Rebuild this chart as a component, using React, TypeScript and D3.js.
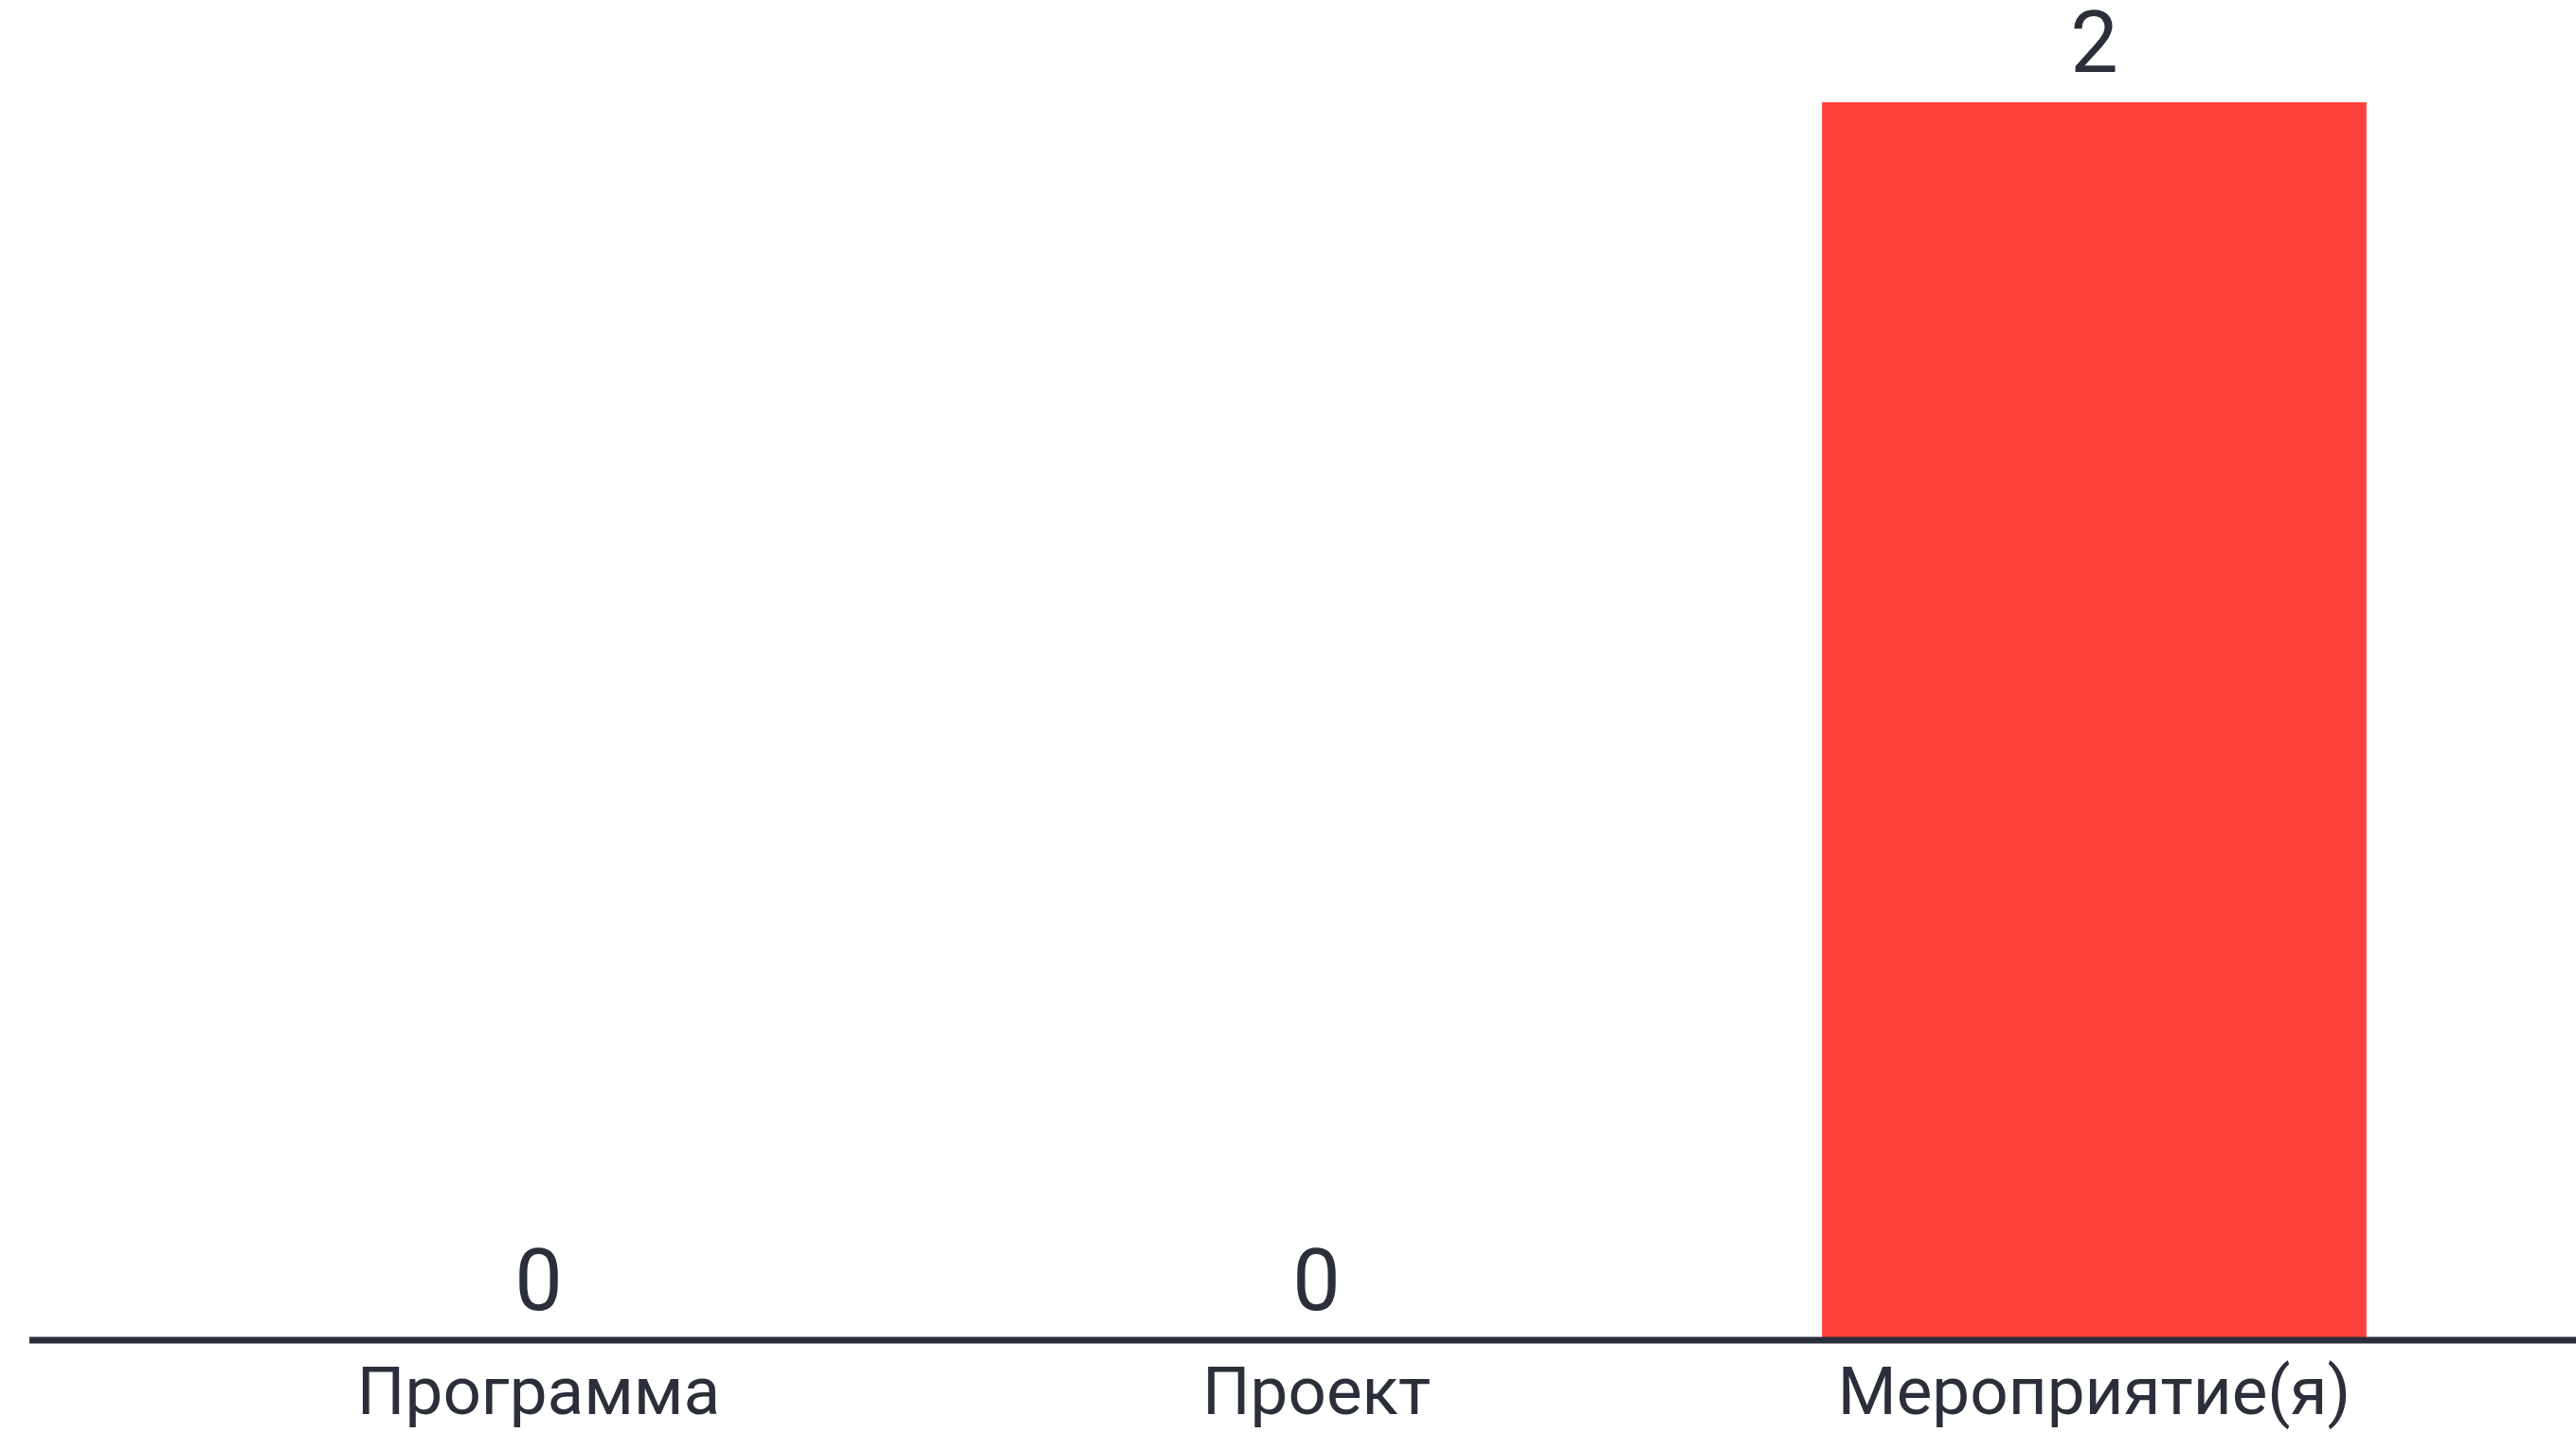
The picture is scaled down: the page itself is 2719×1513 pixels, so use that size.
import { useEffect, useRef } from 'react'
import * as d3 from 'd3'

const categories = ['Программа', 'Проект', 'Мероприятие(я)']
const values = [0, 0, 2]

const WIDTH = 2719
const HEIGHT = 1513

export default function App() {
  const svgRef = useRef<SVGSVGElement>(null)

  useEffect(() => {
    if (!svgRef.current) return

    const svg = d3.select(svgRef.current)
    svg.selectAll('*').remove()

    const x = d3.scaleBand<string>()
      .domain(categories)
      .range([158, 2621])
      .paddingInner(0.3)
      .paddingOuter(0.15)

    const y = d3.scaleLinear()
      .domain([0, 2])
      .range([1415, 108])

    const data = categories.map((c, i) => ({ name: c, value: values[i] }))

    // bars
    svg.selectAll('.bar')
      .data(data)
      .enter()
      .append('rect')
      .attr('class', 'bar')
      .attr('x', d => x(d.name)!)
      .attr('y', d => y(d.value))
      .attr('width', x.bandwidth())
      .attr('height', d => y(0) - y(d.value))
      .style('fill', '#ff403d')

    // value labels
    svg.selectAll('.value')
      .data(data)
      .enter()
      .append('text')
      .attr('class', 'value')
      .attr('x', d => x(d.name)! + x.bandwidth() / 2)
      .attr('y', d => y(d.value) - 32)
      .style('text-anchor', 'middle')
      .style('font-family', 'Roboto')
      .style('font-size', '90px')
      .style('fill', '#2b2f3a')
      .text(d => d.value)

    // baseline drawn over the bars
    svg.append('line')
      .attr('x1', 31)
      .attr('x2', WIDTH)
      .attr('y1', y(0))
      .attr('y2', y(0))
      .style('stroke', '#2b2f3a')
      .style('stroke-width', 7)

    // category labels
    svg.selectAll('.cat')
      .data(data)
      .enter()
      .append('text')
      .attr('class', 'cat')
      .attr('x', d => x(d.name)! + x.bandwidth() / 2)
      .attr('y', 1493)
      .style('text-anchor', 'middle')
      .style('font-family', 'Roboto')
      .style('font-size', '71px')
      .style('fill', '#2b2f3a')
      .text(d => d.name)
  }, [])

  return (
    <svg
      ref={svgRef}
      width={WIDTH}
      height={HEIGHT}
      style={{ position: 'absolute', left: 0, top: 0, background: '#fff' }}
    />
  )
}
